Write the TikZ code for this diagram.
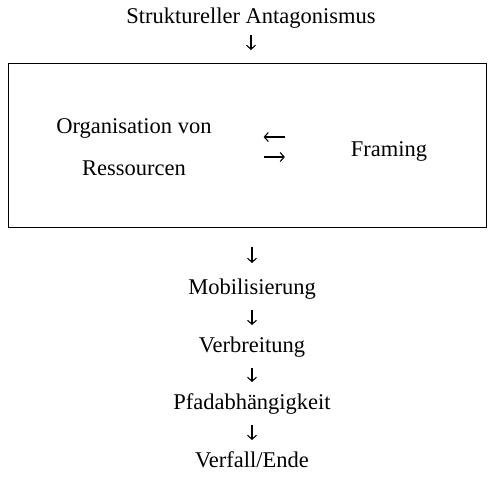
\documentclass[tikz,border=0pt]{standalone}
\usepackage{fontspec}
\setmainfont{Liberation Serif}
\usetikzlibrary{arrows.meta}

\begin{document}
\begin{tikzpicture}[x=1pt,y=-1pt,
    every node/.style={inner sep=0pt,outer sep=0pt,font=\fontsize{22.5}{42}\selectfont},
    txt/.style={anchor=base,text height=16pt,text depth=5pt},
    >={Straight Barb[length=4pt,width=9pt]},line width=1.1pt]
    \useasboundingbox (0,0) rectangle (488,478);
    \node[txt](Str) at (251,24) {Struktureller Antagonismus};
    \node[draw,line width=1.4pt,minimum width=478pt,minimum height=164pt](box) at (247.5,145.5) {};
    \node[anchor=base,align=center](Org) at (134,176) {Organisation von\\Ressourcen};
    \node[txt](Fram) at (389,157) {Framing};
    \node[txt](Mob) at (252,295) {Mobilisierung};
    \node[txt](Ver) at (252,353) {Verbreitung};
    \node[txt](Pfad) at (252,410) {Pfadabhängigkeit};
    \node[txt](End) at (252,468) {Verfall/Ende};
    \draw[->,shorten <=6pt,shorten >=13.5pt] (Str) -- (Str |- box.north);
    \draw[->,shorten <=66pt,shorten >=52pt] ([yshift=14.5pt]Fram.west) -- ([yshift=14.5pt]Fram.west -| Org.east);
    \draw[->,shorten <=52pt,shorten >=66pt] ([yshift=-5.5pt]Fram.west -| Org.east) -- ([yshift=-5.5pt]Fram.west);
    \draw[->,shorten <=19.5pt,shorten >=16pt] (box.south -| Mob) -- (Mob);
    \draw[->,shorten <=10pt,shorten >=12pt] (Mob) -- (Ver);
    \draw[->,shorten <=10pt,shorten >=12pt] (Ver) -- (Pfad);
    \draw[->,shorten <=10pt,shorten >=12pt] (Pfad) -- (End);
\end{tikzpicture}
\end{document}
